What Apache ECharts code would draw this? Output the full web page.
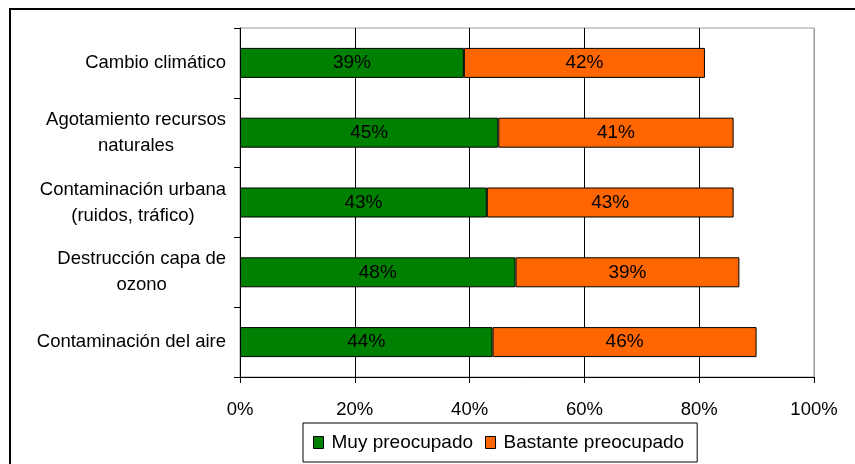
<!DOCTYPE html>
<html>
<head>
<meta charset="utf-8">
<script src="https://cdn.jsdelivr.net/npm/echarts@6/dist/echarts.min.js"></script>
<style>
  html, body { margin: 0; padding: 0; background: #ffffff; }
  #chart { width: 855px; height: 464px; }
</style>
</head>
<body>
<div id="chart"></div>
<script>
// Categories, top to bottom
const categories = [
  'Cambio climático',
  'Agotamiento recursos\nnaturales',
  'Contaminación urbana\n(ruidos, tráfico)',
  'Destrucción capa de\nozono',
  'Contaminación del aire'
];
// Percentages per category
const muyPreocupado = [39, 45, 43, 48, 44];
const bastantePreocupado = [42, 41, 43, 39, 46];
const seriesNames = ['Muy preocupado', 'Bastante preocupado'];
const xTicks = { min: 0, max: 100, interval: 20 };

const FONT = 'Arial, "Liberation Sans", sans-serif';
const chart = echarts.init(document.getElementById('chart'), null, { renderer: 'canvas' });

function barSeries(name, data, color) {
  return {
    name: name,
    type: 'bar',
    stack: 'total',
    data: data,
    barWidth: 30,
    itemStyle: { color: color, borderColor: '#000000', borderWidth: 1 },
    label: {
      show: true,
      position: 'inside',
      formatter: '{c}%',
      color: '#000000',
      fontFamily: FONT,
      fontSize: 19
    },
    emphasis: { disabled: true }
  };
}

chart.setOption({
  animation: false,
  backgroundColor: '#ffffff',
  graphic: [{
    type: 'rect',
    shape: { x: 10, y: 9, width: 900, height: 500 },
    style: { fill: 'none', stroke: '#000000', lineWidth: 2 },
    silent: true,
    z: -1
  }],
  grid: {
    left: 240, right: 41, top: 28, bottom: 87,
    show: true,
    borderColor: '#999999',
    borderWidth: 1,
    backgroundColor: 'transparent'
  },
  legend: {
    data: seriesNames,
    left: 303,
    top: 423,
    padding: [10, 13, 10, 10],
    itemGap: 12,
    itemWidth: 10,
    itemHeight: 12,
    borderColor: '#000000',
    borderWidth: 1,
    icon: 'rect',
    itemStyle: { borderColor: '#000000', borderWidth: 1 },
    textStyle: { color: '#000000', fontFamily: FONT, fontSize: 19, padding: [0, 0, 0, 3] }
  },
  xAxis: {
    type: 'value',
    min: xTicks.min,
    max: xTicks.max,
    interval: xTicks.interval,
    axisLine: { show: true, lineStyle: { color: '#000000', width: 1 } },
    axisTick: { show: true, length: 6, lineStyle: { color: '#000000' } },
    axisLabel: {
      formatter: '{value}%',
      color: '#000000',
      fontFamily: FONT,
      fontSize: 18.5,
      margin: 23
    },
    splitLine: {
      show: true,
      lineStyle: { color: ['#000000', '#000000', '#000000', '#000000', '#000000', '#999999'], width: 1 }
    }
  },
  yAxis: {
    type: 'category',
    data: categories,
    inverse: true,
    axisLine: { show: true, lineStyle: { color: '#000000', width: 1 } },
    axisTick: { show: true, length: 6, lineStyle: { color: '#000000' } },
    axisLabel: {
      color: '#000000',
      fontFamily: FONT,
      fontSize: 18.5,
      margin: 14,
      lineHeight: 26,
      formatter: function (v) {
        return v.split('\n').map(function (s) { return '{c|' + s + '}'; }).join('\n');
      },
      rich: {
        c: { align: 'center', fontFamily: FONT, fontSize: 18.5, lineHeight: 26, color: '#000000' }
      }
    },
    splitLine: { show: false }
  },
  series: [
    barSeries(seriesNames[0], muyPreocupado, '#008000'),
    barSeries(seriesNames[1], bastantePreocupado, '#FF6600')
  ]
});
</script>
</body>
</html>
